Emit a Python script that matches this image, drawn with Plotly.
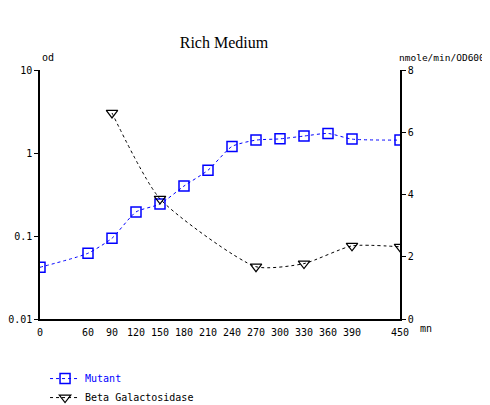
import plotly.graph_objects as go

minutes_mutant = [0, 60, 90, 120, 150, 180, 210, 240, 270, 300, 330, 360, 390, 450]
od_mutant = [0.042, 0.062, 0.094, 0.195, 0.243, 0.40, 0.62, 1.2, 1.43, 1.48, 1.6, 1.72, 1.47, 1.43]

minutes_beta = [90, 150, 270, 330, 390, 450]
beta_gal = [6.62, 3.86, 1.68, 1.78, 2.35, 2.32]

x_ticks = [0, 60, 90, 120, 150, 180, 210, 240, 270, 300, 330, 360, 390, 450]
left_ticks = [0.01, 0.1, 1, 10]
left_tick_labels = ["0.01", "0.1", "1", "10"]
right_ticks = [0, 2, 4, 6, 8]

mono = "DejaVu Sans Mono"

fig = go.Figure()
fig.add_trace(go.Scatter(
    x=minutes_mutant, y=od_mutant, mode="lines+markers",
    name="<span style='color:#0000ff'>Mutant</span>",
    line=dict(color="#0000ff", width=1, dash="3px,3px", shape="spline", smoothing=0.6),
    marker=dict(symbol="square-open", size=10, color="#0000ff", line=dict(width=1.5)),
    yaxis="y",
))
fig.add_trace(go.Scatter(
    x=minutes_beta, y=beta_gal, mode="lines+markers",
    name="Beta Galactosidase",
    line=dict(color="black", width=1, dash="3px,3px", shape="spline", smoothing=0.6),
    marker=dict(symbol="triangle-down-open", size=10, color="black", line=dict(width=1.2)),
    yaxis="y2",
))

# page body has an 8px margin, so the figure is sized 8px smaller and shifted accordingly
fig.update_layout(
    width=482, height=397,
    margin=dict(l=32, r=90, t=62, b=86, autoexpand=False),
    paper_bgcolor="white", plot_bgcolor="white",
    font=dict(family=mono, size=10, color="black"),
    title=dict(text="Rich Medium", x=0.511, xref="paper", xanchor="center", y=0.914,
               yref="container", yanchor="middle", automargin=False,
               font=dict(family="Liberation Serif", size=16, color="black")),
    showlegend=True,
    legend=dict(x=0.014, y=-0.181, xanchor="left", yanchor="top",
                font=dict(family=mono, size=10), bgcolor="rgba(0,0,0,0)",
                tracegroupgap=6, itemwidth=30),
    xaxis=dict(range=[0, 450], tickvals=x_ticks, ticktext=[str(v) for v in x_ticks],
               showgrid=False, zeroline=False, showline=True, linecolor="black", linewidth=1.5,
               ticks="outside", ticklen=3, tickcolor="rgba(0,0,0,0)", automargin=False),
    yaxis=dict(type="log", range=[-2, 1], tickvals=left_ticks, ticktext=left_tick_labels,
               showgrid=False, zeroline=False, showline=True, linecolor="black", linewidth=1.5,
               ticks="outside", ticklen=4, tickcolor="black", automargin=False),
    yaxis2=dict(range=[0, 8], tickvals=right_ticks, overlaying="y", side="right",
                showgrid=False, zeroline=False, showline=True, linecolor="black", linewidth=1.5,
                ticks="outside", ticklen=4, tickcolor="black", automargin=False),
    annotations=[
        dict(text="od", x=0, y=1.02, xref="paper", yref="paper", xanchor="left", yanchor="bottom",
             showarrow=False, font=dict(family=mono, size=10)),
        dict(text="nmole/min/OD600", x=1, y=1.02, xref="paper", yref="paper", xanchor="left",
             yanchor="bottom", xshift=-3, showarrow=False, font=dict(family=mono, size=9.5)),
        dict(text="mn", x=1, y=0, xref="paper", yref="paper", xanchor="left", yanchor="top",
             xshift=18, yshift=-2, showarrow=False, font=dict(family=mono, size=10)),
    ],
)

fig.write_html("out.html")
